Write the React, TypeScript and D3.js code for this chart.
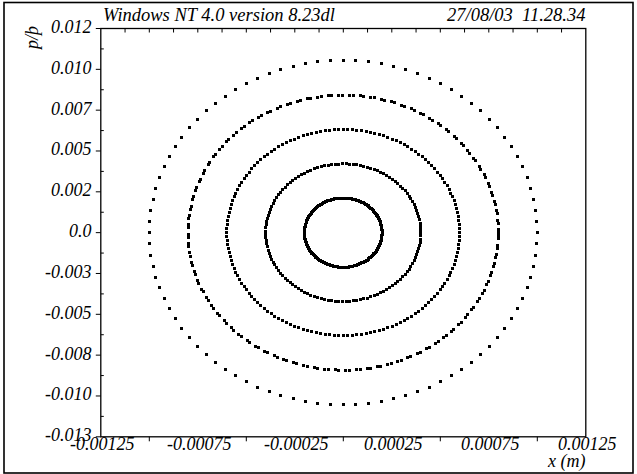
import React from "react";
import * as d3 from "d3";

// Axis ranges and ticks
const xDomain = [-0.00125, 0.00125];
const yDomain = [-0.0125, 0.0125];
const xLabelValues = [-0.00125, -0.00075, -0.00025, 0.00025, 0.00075, 0.00125];
const xLabelTexts = ["-0.00125", "-0.00075", "-0.00025", "0.00025", "0.00075", "0.00125"];
const xBottomTicks = [-0.001, -0.0005, 0, 0.0005, 0.001];
const yLabelValues = [0.0125, 0.01, 0.0075, 0.005, 0.0025, 0, -0.0025, -0.005, -0.0075, -0.01, -0.0125];
const yLabelTexts = ["0.012", "0.010", "0.007", "0.005", "0.002", "0.0", "-0.003", "-0.005", "-0.008", "-0.010", "-0.013"];

// Tracked particles: amplitudes in x and p/p, turns recorded, fractional tune
const ampX = [0.0002, 0.0004, 0.0006, 0.0008, 0.001];
const ampP = [0.00212, 0.00421, 0.00631, 0.00842, 0.01054];
const turns = [200, 135, 160, 184, 96];
const tunes = [1 / 200, 1 / 135, 1 / 160, 1.0036 / 92, 1 / 96];

const titleLeft = "Windows NT 4.0 version 8.23dl";
const titleRight = "27/08/03\u00a0\u00a011.28.34";
const xTitle = "x (m)";
const yTitle = "p/\u00fe";

const W = 637;
const H = 474;
const FONT = "'Liberation Serif', 'Times New Roman', serif";

export default function App() {
  const x = d3.scaleLinear().domain(xDomain).range([100.8, 585.8]);
  const y = d3.scaleLinear().domain(yDomain).range([436.8, 28.5]);

  const topTicks = d3.range(1, 20).map((i) => xDomain[0] + i * 0.000125);
  const yMinor = d3.range(0, 10).map((i) => yDomain[1] - (i + 0.5) * 0.0025);

  const points: { px: number; py: number; k: string }[] = [];
  ampX.forEach((ax, r) => {
    const ap = ampP[r];
    for (let n = 0; n < turns[r]; n++) {
      const th = 2 * Math.PI * tunes[r] * n;
      points.push({ px: ax * Math.cos(th), py: ap * Math.sin(th), k: `${r}-${n}` });
    }
  });

  const s = 3;
  const textStyle = { fontFamily: FONT, fontStyle: "italic", fontSize: 18, fill: "#000" } as const;

  return (
    <svg width={W} height={H} style={{ position: "absolute", left: 0, top: 0, background: "#fff" }}>
      <rect x={4} y={2.5} width={629} height={470.5} fill="none" stroke="#000" strokeWidth={1.6} />
      <rect
        x={x(xDomain[0])}
        y={y(yDomain[1])}
        width={x(xDomain[1]) - x(xDomain[0])}
        height={y(yDomain[0]) - y(yDomain[1])}
        fill="none"
        stroke="#000"
        strokeWidth={1.3}
      />
      {topTicks.map((v, i) => (
        <line key={`tt${i}`} x1={x(v)} x2={x(v)} y1={y(yDomain[1])} y2={y(yDomain[1]) + 4} stroke="#000" strokeWidth={1} />
      ))}
      {xBottomTicks.map((v, i) => (
        <line key={`bt${i}`} x1={x(v)} x2={x(v)} y1={y(yDomain[0])} y2={y(yDomain[0]) + 4.5} stroke="#000" strokeWidth={1} />
      ))}
      {yLabelValues.map((v, i) => (
        <line key={`yt${i}`} x1={x(xDomain[0]) - 5} x2={x(xDomain[0])} y1={y(v)} y2={y(v)} stroke="#000" strokeWidth={1} />
      ))}
      {yMinor.map((v, i) => (
        <line key={`ym${i}`} x1={x(xDomain[0])} x2={x(xDomain[0]) + 3} y1={y(v)} y2={y(v)} stroke="#000" strokeWidth={1} />
      ))}
      {yLabelValues.map((v, i) => (
        <text key={`yl${i}`} x={91.5} y={Math.max(y(v) + 4.5, 29.5)} textAnchor="end" style={textStyle}>
          {yLabelTexts[i]}
        </text>
      ))}
      {xLabelValues.map((v, i) => (
        <text key={`xl${i}`} x={x(v) + 1.5} y={450} textAnchor="middle" style={textStyle}>
          {xLabelTexts[i]}
        </text>
      ))}
      <text x={103} y={21} style={{ ...textStyle, fontSize: 18.5 }}>{titleLeft}</text>
      <text x={585.5} y={21} textAnchor="end" style={{ ...textStyle, fontSize: 18.5 }}>{titleRight}</text>
      <text x={585.5} y={467} textAnchor="end" style={textStyle}>{xTitle}</text>
      <text x={38} y={37.5} textAnchor="middle" transform="rotate(-90 38 37.5)" style={textStyle}>{yTitle}</text>
      <g fill="#000" shapeRendering="crispEdges">
        {points.map((p) => (
          <rect
            key={p.k}
            x={Math.round(x(p.px) - s / 2)}
            y={Math.round(y(p.py) - s / 2)}
            width={s}
            height={s}
          />
        ))}
      </g>
    </svg>
  );
}
